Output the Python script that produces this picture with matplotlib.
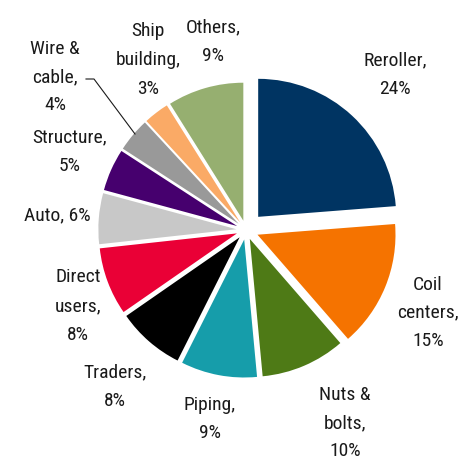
import matplotlib.pyplot as plt

labels = ['Reroller,\n24%', 'Coil\ncenters,\n15%', 'Nuts &\nbolts,\n10%', 'Piping,\n9%',
          'Traders,\n8%', 'Direct\nusers,\n8%', 'Auto, 6%', 'Structure,\n5%',
          'Wire &\ncable,\n4%', 'Ship\nbuilding,\n3%', 'Others,\n9%']
shares = [24, 15, 10, 9, 8, 8, 6, 5, 4, 3, 9]
colors = ['#003462', '#F57300', '#4E7A16', '#169DAA', '#000000', '#EA0036',
          '#C8C8C8', '#46006E', '#999999', '#FAAA66', '#96AF70']

# label positions in pixels of the 461x468 picture
label_px = [(395, 75), (428, 313), (345, 423), (210, 419), (115, 387), (78, 306),
            (57, 215), (70, 152), (55, 77), (148, 60), (213, 42)]

plt.rcParams['font.family'] = ['Roboto Condensed', 'DejaVu Sans']

W, H = 461, 468
fig = plt.figure(figsize=(W / 100, H / 100), dpi=100)
ax = fig.add_axes([0, 0, 1, 1])

explode = [0.13, 0.09] + [0.07] * (len(shares) - 2)
wedges, _ = ax.pie(shares, colors=colors, startangle=90, counterclock=False,
                   explode=explode, radius=1.0, wedgeprops=dict(linewidth=0))

scale = 138.0
cx, cy = 246, 230
ax.set_xlim(-cx / scale, (W - cx) / scale)
ax.set_ylim(-(H - cy) / scale, cy / scale)
ax.set_aspect('equal')
ax.axis('off')

for txt, (px, py) in zip(labels, label_px):
    ax.text(px / W, 1 - py / H, txt, transform=ax.transAxes, ha='center', va='center',
            fontsize=14, color='#1a1a1a', linespacing=1.75)

# leader line for Wire & cable
ax.plot([86 / W, 94 / W, 135 / W], [1 - 79 / H, 1 - 79 / H, 1 - 134 / H],
        transform=ax.transAxes, color='#1a1a1a', linewidth=0.8)

fig.savefig('out.png', dpi=100)
